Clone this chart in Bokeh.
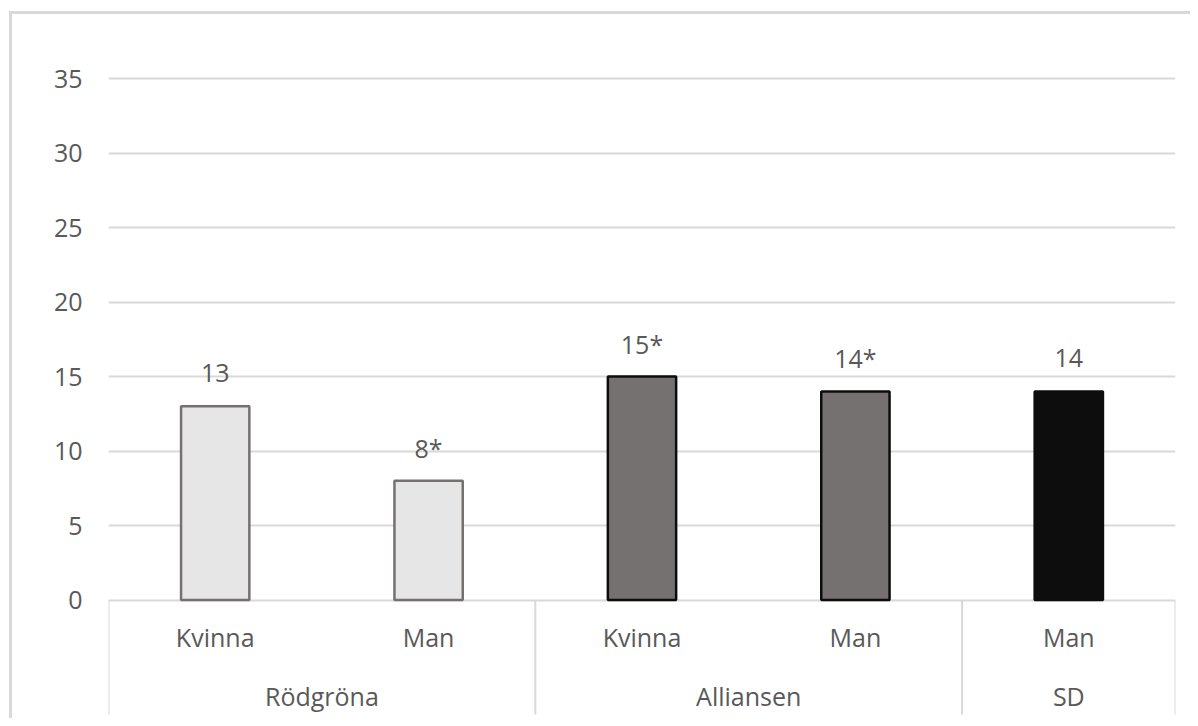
from bokeh.plotting import figure
from bokeh.models import FactorRange, FixedTicker, ColumnDataSource, Range1d, Grid
from bokeh.core.properties import value
from bokeh.embed import file_html
from bokeh.resources import INLINE

# ---- data ----
parties = ["Rödgröna", "Rödgröna", "Alliansen", "Alliansen", "SD"]
genders = ["Kvinna", "Man", "Kvinna", "Man", "Man"]
values = [13, 8, 15, 14, 14]
value_labels = ["13", "8*", "15*", "14*", "14"]
groups = ["Rödgröna", "Alliansen", "SD"]
y_ticks = [0, 5, 10, 15, 20, 25, 30, 35]

# ---- styles ----
party_fill = {"Rödgröna": "#e7e6e6", "Alliansen": "#767171", "SD": "#0d0d0d"}
party_line = {"Rödgröna": "#767171", "Alliansen": "#0d0d0d", "SD": "#0d0d0d"}
FONT = "Open Sans"
TXT = "#595959"
GRID = "#d9d9d9"

factors = list(zip(parties, genders))
src = ColumnDataSource(dict(
    x=factors,
    top=values,
    label=value_labels,
    fill=[party_fill[p] for p in parties],
    line=[party_line[p] for p in parties],
))

x_range = FactorRange(*factors, factor_padding=0, group_padding=0, range_padding=0)
y_range = Range1d(-7.953, 38.893)
SEP_END = -7.685  # where the group separators stop

p = figure(width=1190, height=718, x_range=x_range, y_range=y_range,
           output_backend="svg", toolbar_location=None, x_axis_location=None,
           min_border_left=108, min_border_right=15, min_border_top=20,
           min_border_bottom=0)

p.border_fill_color = None
p.background_fill_color = "white"
p.outline_line_color = None
p.styles = {
    "background": ("linear-gradient(#d9d9d9,#d9d9d9) 9px 11px / 3px 100% no-repeat, "
                   "linear-gradient(#d9d9d9,#d9d9d9) 9px 11px / 100% 3px no-repeat"),
}

for r in p.center:
    if isinstance(r, Grid) and r.dimension == 0:
        r.visible = False

yax = p.yaxis[0]
yax.ticker = FixedTicker(ticks=y_ticks)
yax.axis_line_color = None
yax.major_tick_line_color = None
yax.minor_tick_line_color = None
yax.major_tick_out = 0
yax.major_tick_in = 0
yax.major_label_standoff = 26
yax.major_label_text_font = FONT
yax.major_label_text_font_size = "25px"
yax.major_label_text_color = TXT

p.ygrid.grid_line_color = GRID
p.ygrid.grid_line_width = 2
p.ygrid.ticker = FixedTicker(ticks=y_ticks)

# group separators (left edge of each group + right edge of last)
sep_x = []
for g in groups:
    first = next(f for f in factors if f[0] == g)
    sep_x.append((*first, -0.5))
sep_x.append((*factors[-1], 0.5))
p.segment(x0=sep_x, y0=0, x1=sep_x, y1=SEP_END, line_color=GRID, line_width=2)

# bars
p.vbar(x="x", top="top", bottom=0, width=0.32, source=src,
       fill_color="fill", line_color="line", line_width=2.5)

# value labels
p.text(x="x", y="top", text="label", source=src, text_align="center",
       text_baseline="alphabetic", y_offset=-33,
       text_font=value(FONT), text_font_size="25px", text_color=TXT)

# category labels
sub_src = ColumnDataSource(dict(x=factors, t=genders))
p.text(x="x", y=0, text="t", source=sub_src, text_align="center",
       text_baseline="alphabetic", y_offset=37,
       text_font=value(FONT), text_font_size="25px", text_color=TXT)

grp_src = ColumnDataSource(dict(x=groups, t=groups))
p.text(x="x", y=0, text="t", source=grp_src, text_align="center",
       text_baseline="alphabetic", y_offset=96,
       text_font=value(FONT), text_font_size="25px", text_color=TXT)

open("out.html", "w").write(file_html(p, INLINE))
